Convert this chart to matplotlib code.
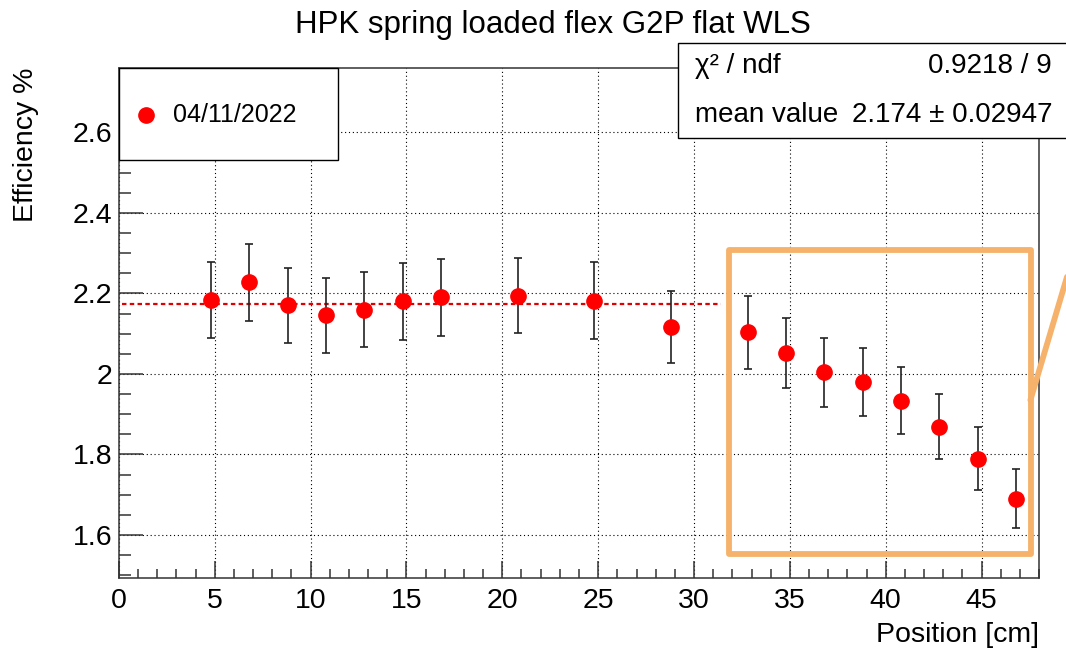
"""
HPK spring loaded flex G2P flat WLS: efficiency vs position, ROOT-style plot.
"""

from matplotlib import pyplot as plt
from matplotlib.patches import Rectangle
from matplotlib.ticker import MultipleLocator, FormatStrFormatter
import numpy as np

plt.rcParams['font.family'] = ['Liberation Sans', 'DejaVu Sans']

# measured positions [cm]
positions = [4.8, 6.8, 8.8, 10.8, 12.8, 14.8, 16.8, 20.8, 24.8, 28.8,
             32.8, 34.8, 36.8, 38.8, 40.8, 42.8, 44.8, 46.8]

# efficiency [%]
efficiency = [2.184, 2.228, 2.170, 2.146, 2.159, 2.180, 2.190, 2.194, 2.182, 2.116,
              2.103, 2.052, 2.004, 1.980, 1.933, 1.869, 1.789, 1.690]

# efficiency errors
errors = [0.095, 0.096, 0.093, 0.093, 0.093, 0.095, 0.095, 0.093, 0.095, 0.090,
          0.090, 0.088, 0.086, 0.085, 0.083, 0.081, 0.078, 0.073]

# constant fit
fit_mean = 2.174
fit_err = 0.02947
fit_chi2 = 0.9218
fit_ndf = 9
fit_range = [0.15, 31.4]

# highlight box drawn on top of the slide
box_x = [31.8, 47.6]
box_y = [1.552, 2.308]
arrow_x = [47.55, 50.2]
arrow_y = [1.935, 2.36]

orange = '#F6B26B'

fig = plt.figure(figsize=[10.66, 6.49], dpi=100)
ax = fig.add_axes([0.1116, 0.1094, 0.8631, 0.7858])

ax.set_xlim(0, 48)
ax.set_ylim(1.493, 2.76)

ax.errorbar(positions, efficiency, yerr=errors, fmt='none', ecolor='#222222',
            elinewidth=1.2, capsize=2.8, capthick=1.2, zorder=3)
ax.plot(positions, efficiency, 'o', color='#ff0000', markersize=11, zorder=4)
ax.plot(fit_range, [fit_mean, fit_mean], color='#e00000', linewidth=1.6,
        linestyle=(0, (2, 1.5)), zorder=2)

# axes style
ax.xaxis.set_major_locator(MultipleLocator(5))
ax.xaxis.set_minor_locator(MultipleLocator(1))
ax.yaxis.set_major_locator(MultipleLocator(0.2))
ax.yaxis.set_minor_locator(MultipleLocator(0.05))
ax.yaxis.set_major_formatter(FormatStrFormatter('%g'))
ax.grid(True, which='major', color='black', linewidth=0.8, linestyle=(0, (1, 2.5)))
ax.tick_params(axis='both', which='both', direction='in', top=False, right=False,
               labelsize=20.5, width=1.1, color='#333333')
ax.tick_params(axis='x', which='major', length=12.5, pad=7)
ax.tick_params(axis='x', which='minor', length=6.5)
ax.tick_params(axis='y', which='major', length=17.5, pad=5)
ax.tick_params(axis='y', which='minor', length=8.7)
for s in ax.spines.values():
    s.set_linewidth(1.1)
    s.set_color('#333333')

ax.set_xlabel('Position [cm]', fontsize=20.5, loc='right', labelpad=6)
ax.set_ylabel('Efficiency %', fontsize=20.5, loc='top', labelpad=24)

fig.text(0.519, 0.962, 'HPK spring loaded flex G2P flat WLS', fontsize=22.5,
         ha='center', va='center')

# legend box
ax.add_patch(Rectangle((0.0, 0.8196), 0.238, 0.1804, transform=ax.transAxes,
                       facecolor='white', edgecolor='black', linewidth=1.0,
                       zorder=5, clip_on=False))
ax.plot([0.0293], [0.908], 'o', color='#ff0000', markersize=11,
        transform=ax.transAxes, zorder=6, clip_on=False)
ax.text(0.0587, 0.908, '04/11/2022', fontsize=18, va='center', ha='left',
        transform=ax.transAxes, zorder=6)

# stats box
fig.patches.append(Rectangle((678 / 1066, 1 - 138 / 649), 400 / 1066, 95 / 649,
                             transform=fig.transFigure, facecolor='white',
                             edgecolor='black', linewidth=1.0, zorder=5))
fig.text(695 / 1066, 1 - 66 / 649, 'χ² / ndf', fontsize=20, va='center', ha='left', zorder=6)
fig.text(1052 / 1066, 1 - 66 / 649, '%.4f / %d' % (fit_chi2, fit_ndf), fontsize=20,
         va='center', ha='right', zorder=6)
fig.text(695 / 1066, 1 - 115 / 649, 'mean value', fontsize=20, va='center', ha='left', zorder=6)
fig.text(1052 / 1066, 1 - 115 / 649, '%.3f ± %.5f' % (fit_mean, fit_err), fontsize=20,
         va='center', ha='right', zorder=6)

# orange highlight
ax.add_patch(Rectangle((box_x[0], box_y[0]), box_x[1] - box_x[0], box_y[1] - box_y[0],
                       facecolor='none', edgecolor=orange, linewidth=4.2,
                       joinstyle='round', zorder=7, clip_on=False))
ax.plot(arrow_x, arrow_y, color=orange, linewidth=4.2, solid_capstyle='round',
        zorder=7, clip_on=False)

plt.savefig('out.png', dpi=100)
